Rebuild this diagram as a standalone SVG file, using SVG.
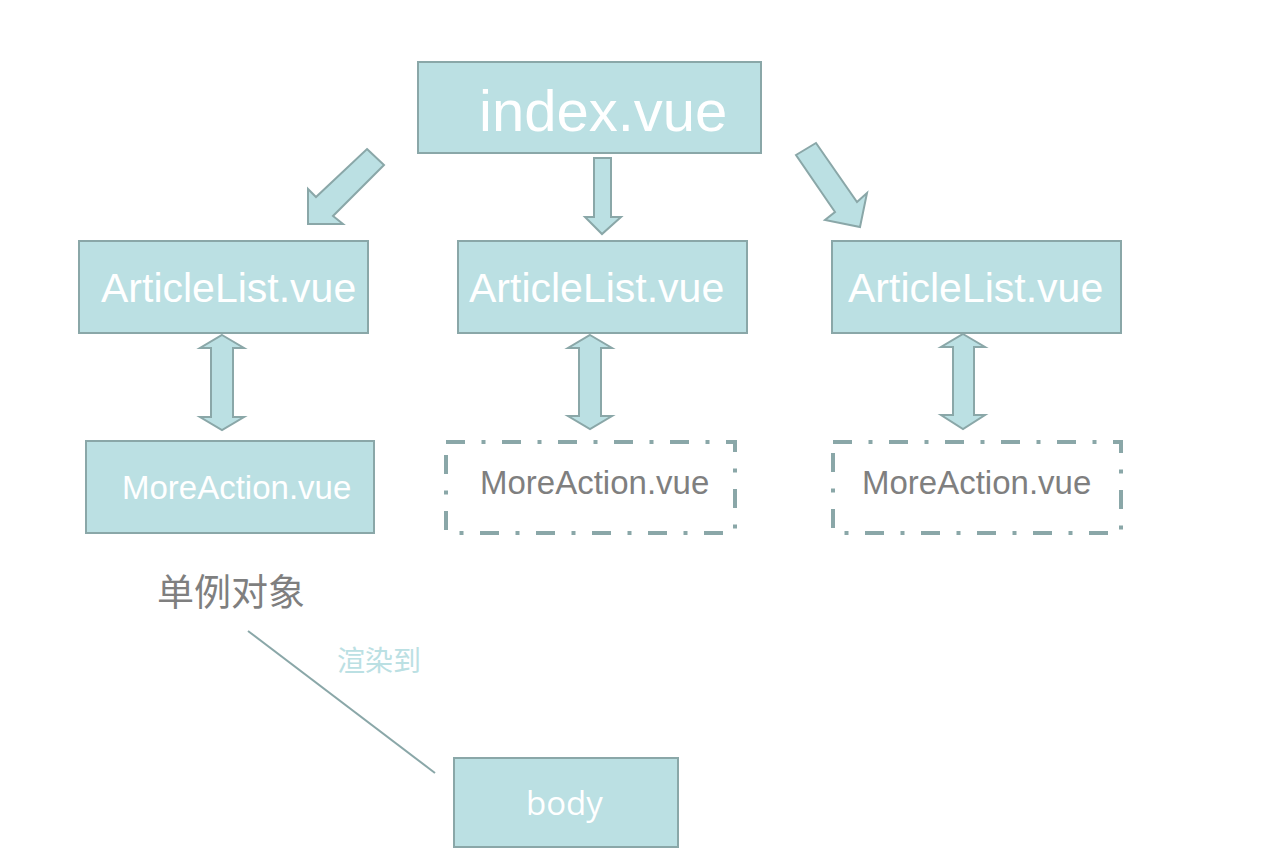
<svg xmlns="http://www.w3.org/2000/svg" width="1271" height="868" viewBox="0 0 1271 868">
<style>
.box{fill:#bbe0e3;stroke:#8aa7a8;stroke-width:2}
.dbox{fill:none;stroke:#8aa7a8;stroke-width:4;stroke-dasharray:19 16.5 4 16.5}
.arr{fill:#bbe0e3;stroke:#8aa7a8;stroke-width:2;stroke-linejoin:miter}
.wt{font-family:"Liberation Sans",Arial,sans-serif;fill:#ffffff}
.gt{font-family:"Liberation Sans",Arial,sans-serif;fill:#7f7f7f}
.cjk{font-family:"Noto Sans CJK SC",sans-serif}
</style>
<rect width="1271" height="868" fill="#ffffff"/>
<g id="index">
<rect class="box" x="418" y="62" width="343" height="91"/>
<text class="wt" x="479" y="131" font-size="58">index.vue</text>
</g>
<g id="articlelist1">
<rect class="box" x="79" y="241" width="289" height="92"/>
<text class="wt" x="101" y="302" font-size="41">ArticleList.vue</text>
</g>
<g id="articlelist2">
<rect class="box" x="458" y="241" width="289" height="92"/>
<text class="wt" x="469" y="302" font-size="41">ArticleList.vue</text>
</g>
<g id="articlelist3">
<rect class="box" x="832" y="241" width="289" height="92"/>
<text class="wt" x="848" y="302" font-size="41">ArticleList.vue</text>
</g>
<g id="moreaction1">
<rect class="box" x="86" y="441" width="288" height="92"/>
<text class="wt" x="122" y="499" font-size="33">MoreAction.vue</text>
</g>
<g id="moreaction2">
<rect class="dbox" x="446" y="442" width="289" height="91"/>
<text class="gt" x="480" y="494" font-size="33">MoreAction.vue</text>
</g>
<g id="moreaction3">
<rect class="dbox" x="833" y="442" width="288" height="91"/>
<text class="gt" x="862" y="494" font-size="33">MoreAction.vue</text>
</g>
<g id="singleton">
<text class="cjk" x="157" y="606" font-size="37" fill="#7f7f7f">单例对象</text>
</g>
<g id="body">
<rect class="box" x="454" y="758" width="224" height="89"/>
<text x="526" y="815" font-size="33" fill="#ffffff" font-family="'Open Sans',sans-serif">body</text>
</g>
<g id="connectors">
<polygon class="arr" points="367,149 384,165 333,216 343,224 308,224 308,189 316,197"/>
<polygon class="arr" points="594,158 611,158 611,217 621,217 602,234 585,217 594,217"/>
<polygon class="arr" points="796,155 816,143 857,202 867,193 860,227 825,220 835,212"/>
<polygon class="arr" points="222,335 244,348 233,348 233,417 244,417 222,430 200,417 211,417 211,348 200,348"/>
<polygon class="arr" points="590,335 612,348 601,348 601,416 612,416 590,429 568,416 579,416 579,348 568,348"/>
<polygon class="arr" points="963,334 985,347 974,347 974,415 985,415 963,429 941,415 953,415 953,347 941,347"/>
<line x1="248" y1="631" x2="435" y2="773" stroke="#8aa7a8" stroke-width="2"/>
<text class="cjk" x="337" y="671" font-size="28" fill="#bbe0e3">渲染到</text>
</g>
</svg>
